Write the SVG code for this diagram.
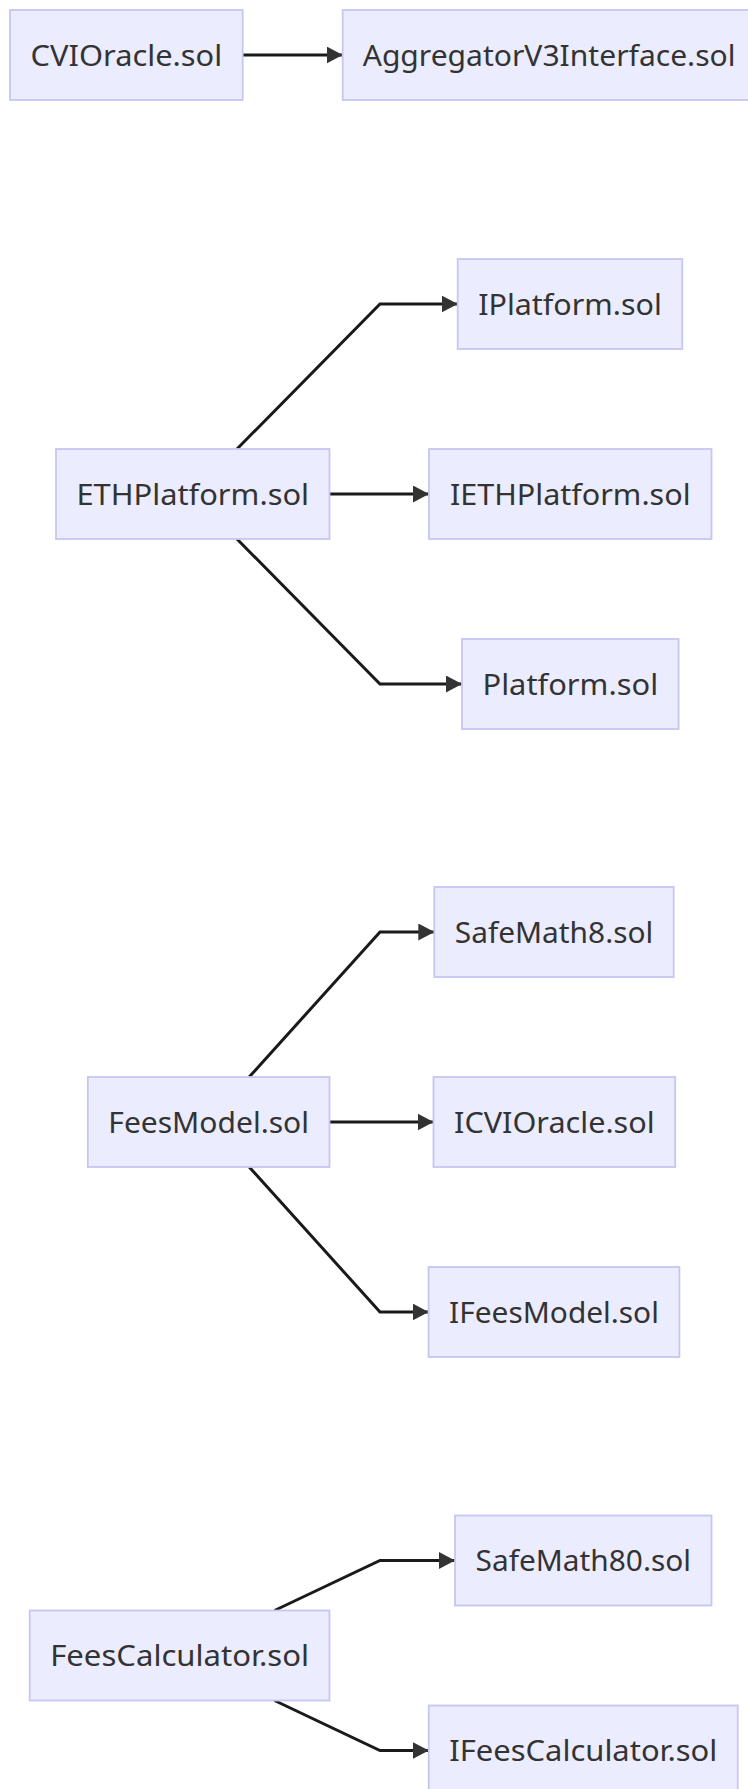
<svg xmlns="http://www.w3.org/2000/svg" width="748" height="1789" viewBox="0 0 748 1789">
  <style>
    .node rect { fill: #ECECFF; stroke: #C6C6F2; stroke-width: 1.8; }
    .node text { font-family: "Noto Sans", "Open Sans", "DejaVu Sans", sans-serif; font-size: 29.5px; fill: #333333; text-anchor: middle; }
    .edges path { fill: none; stroke: #1a1a1a; stroke-width: 3; }
  </style>
  <defs>
    <marker id="arrow" markerUnits="userSpaceOnUse" markerWidth="16" markerHeight="17" refX="16" refY="8.5" orient="auto">
      <path d="M0,0 L16,8.5 L0,17 z" fill="#333333"/>
    </marker>
  </defs>
  <rect width="748" height="1789" fill="#ffffff"/>

  <!-- dependency connectors -->
  <g class="edges" id="edges">
    <path d="M242.7,55 L342.7,55" marker-end="url(#arrow)"/>

    <path d="M237,449 L380,304 L457.7,304" marker-end="url(#arrow)"/>
    <path d="M329.5,494 L429,494" marker-end="url(#arrow)"/>
    <path d="M237,539 L380,684 L462,684" marker-end="url(#arrow)"/>

    <path d="M249.2,1077 L380,932 L434.3,932" marker-end="url(#arrow)"/>
    <path d="M329.5,1122 L433.5,1122" marker-end="url(#arrow)"/>
    <path d="M249.2,1167 L380,1312 L428.6,1312" marker-end="url(#arrow)"/>

    <path d="M274.5,1610.5 L380,1560.5 L455,1560.5" marker-end="url(#arrow)"/>
    <path d="M274.5,1700.5 L380,1750.5 L428.75,1750.5" marker-end="url(#arrow)"/>
  </g>

  <!-- contract files -->
  <g class="node" id="CVIOracle">
    <rect x="10" y="10" width="232.7" height="90"/>
    <text x="126.35" y="65.6" textLength="191.5" lengthAdjust="spacingAndGlyphs">CVIOracle.sol</text>
  </g>
  <g class="node" id="AggregatorV3Interface">
    <rect x="342.7" y="10" width="414" height="90"/>
    <text x="549.1" y="65.6" textLength="372.8" lengthAdjust="spacingAndGlyphs">AggregatorV3Interface.sol</text>
  </g>

  <g class="node" id="IPlatform">
    <rect x="457.7" y="259" width="224.6" height="90"/>
    <text x="570" y="314.6" textLength="183.6" lengthAdjust="spacingAndGlyphs">IPlatform.sol</text>
  </g>
  <g class="node" id="ETHPlatform">
    <rect x="56" y="449" width="273.5" height="90"/>
    <text x="192.75" y="504.6" textLength="232.6" lengthAdjust="spacingAndGlyphs">ETHPlatform.sol</text>
  </g>
  <g class="node" id="IETHPlatform">
    <rect x="429" y="449" width="282.5" height="90"/>
    <text x="570.25" y="504.6" textLength="240.6" lengthAdjust="spacingAndGlyphs">IETHPlatform.sol</text>
  </g>
  <g class="node" id="Platform">
    <rect x="462" y="639" width="216.6" height="90"/>
    <text x="570.3" y="694.6" textLength="175.6" lengthAdjust="spacingAndGlyphs">Platform.sol</text>
  </g>

  <g class="node" id="SafeMath8">
    <rect x="434.3" y="887" width="239.4" height="90"/>
    <text x="554" y="942.6" textLength="198.4" lengthAdjust="spacingAndGlyphs">SafeMath8.sol</text>
  </g>
  <g class="node" id="FeesModel">
    <rect x="87.8" y="1077" width="241.7" height="90"/>
    <text x="208.65" y="1132.6" textLength="200.7" lengthAdjust="spacingAndGlyphs">FeesModel.sol</text>
  </g>
  <g class="node" id="ICVIOracle">
    <rect x="433.5" y="1077" width="241.7" height="90"/>
    <text x="554.35" y="1132.6" textLength="200.7" lengthAdjust="spacingAndGlyphs">ICVIOracle.sol</text>
  </g>
  <g class="node" id="IFeesModel">
    <rect x="428.6" y="1267" width="250.8" height="90"/>
    <text x="554" y="1322.6" textLength="209.8" lengthAdjust="spacingAndGlyphs">IFeesModel.sol</text>
  </g>

  <g class="node" id="SafeMath80">
    <rect x="455" y="1515.5" width="256.5" height="90"/>
    <text x="583.25" y="1571.1" textLength="215.5" lengthAdjust="spacingAndGlyphs">SafeMath80.sol</text>
  </g>
  <g class="node" id="FeesCalculator">
    <rect x="29.7" y="1610.5" width="299.8" height="90"/>
    <text x="179.6" y="1666.1" textLength="258.8" lengthAdjust="spacingAndGlyphs">FeesCalculator.sol</text>
  </g>
  <g class="node" id="IFeesCalculator">
    <rect x="428.75" y="1705.5" width="309" height="90"/>
    <text x="583.25" y="1761.1" textLength="268" lengthAdjust="spacingAndGlyphs">IFeesCalculator.sol</text>
  </g>
</svg>
